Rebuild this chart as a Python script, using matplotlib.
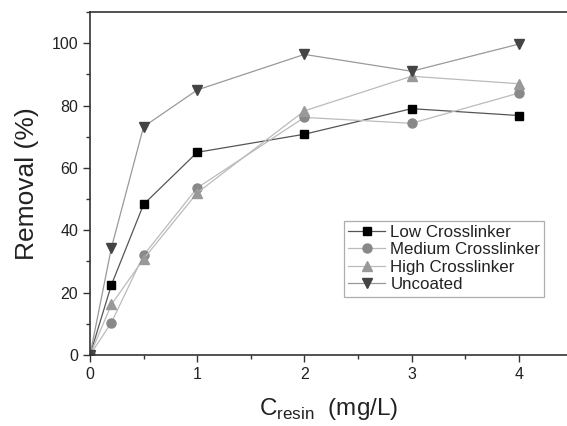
import matplotlib
matplotlib.use("Agg")
import matplotlib.pyplot as plt
from matplotlib.ticker import MultipleLocator

plt.rcParams['font.family'] = ['Liberation Sans', 'DejaVu Sans']

conc = [0, 0.2, 0.5, 1, 2, 3, 4]
low = [0, 22.5, 48.3, 65, 70.8, 79, 76.8]
medium = [0, 10.4, 32, 53.6, 76.2, 74.3, 84]
high = [0, 16.2, 30.8, 52, 78.3, 89.4, 87]
uncoated = [0, 34.4, 73.2, 85, 96.4, 91, 99.7]

labels = ["Low Crosslinker", "Medium Crosslinker", "High Crosslinker", "Uncoated"]

fig = plt.figure(figsize=(5.67, 4.26), dpi=100)
ax = fig.add_axes([0.1587, 0.1667, 0.8413, 0.8051])

ax.plot(conc, low, color="#555555", lw=0.9, marker="s", ms=6, mfc="black", mec="black", label=labels[0])
ax.plot(conc, medium, color="#bbbbbb", lw=0.9, marker="o", ms=6.5, mfc="#888888", mec="#888888", label=labels[1])
ax.plot(conc, high, color="#bbbbbb", lw=0.9, marker="^", ms=6.5, mfc="#999999", mec="#999999", label=labels[2])
ax.plot(conc, uncoated, color="#999999", lw=0.9, marker="v", ms=6.5, mfc="#444444", mec="#444444", label=labels[3])

ax.set_xlim(0, 4.45)
ax.set_ylim(0, 110)
ax.xaxis.set_major_locator(MultipleLocator(1))
ax.xaxis.set_minor_locator(MultipleLocator(0.5))
ax.yaxis.set_major_locator(MultipleLocator(20))
ax.yaxis.set_minor_locator(MultipleLocator(10))
ax.tick_params(which="both", direction="out", labelsize=11.5, width=1, color="#333333", labelcolor="#222222")
ax.tick_params(which="major", length=5)
ax.tick_params(which="minor", length=3)
ax.spines["right"].set_visible(False)
for s in ["left", "bottom", "top"]:
    ax.spines[s].set_linewidth(1.2)
    ax.spines[s].set_color("#333333")

ax.set_ylabel("Removal (%)", fontsize=19, labelpad=9, color="#222222")
ax.set_xlabel(r"C$_{\mathregular{resin}}$  (mg/L)", fontsize=17.5, labelpad=10, color="#222222")

leg = ax.legend(loc="upper left", bbox_to_anchor=(0.532, 0.392), fontsize=12.2, frameon=True,
                fancybox=False, edgecolor="#999999", handlelength=2.2, handletextpad=0.3,
                labelspacing=0.15, borderpad=0.25, borderaxespad=0)
leg.get_frame().set_linewidth(0.9)
for t in leg.get_texts():
    t.set_color("#222222")

fig.savefig("out.png", dpi=100)
